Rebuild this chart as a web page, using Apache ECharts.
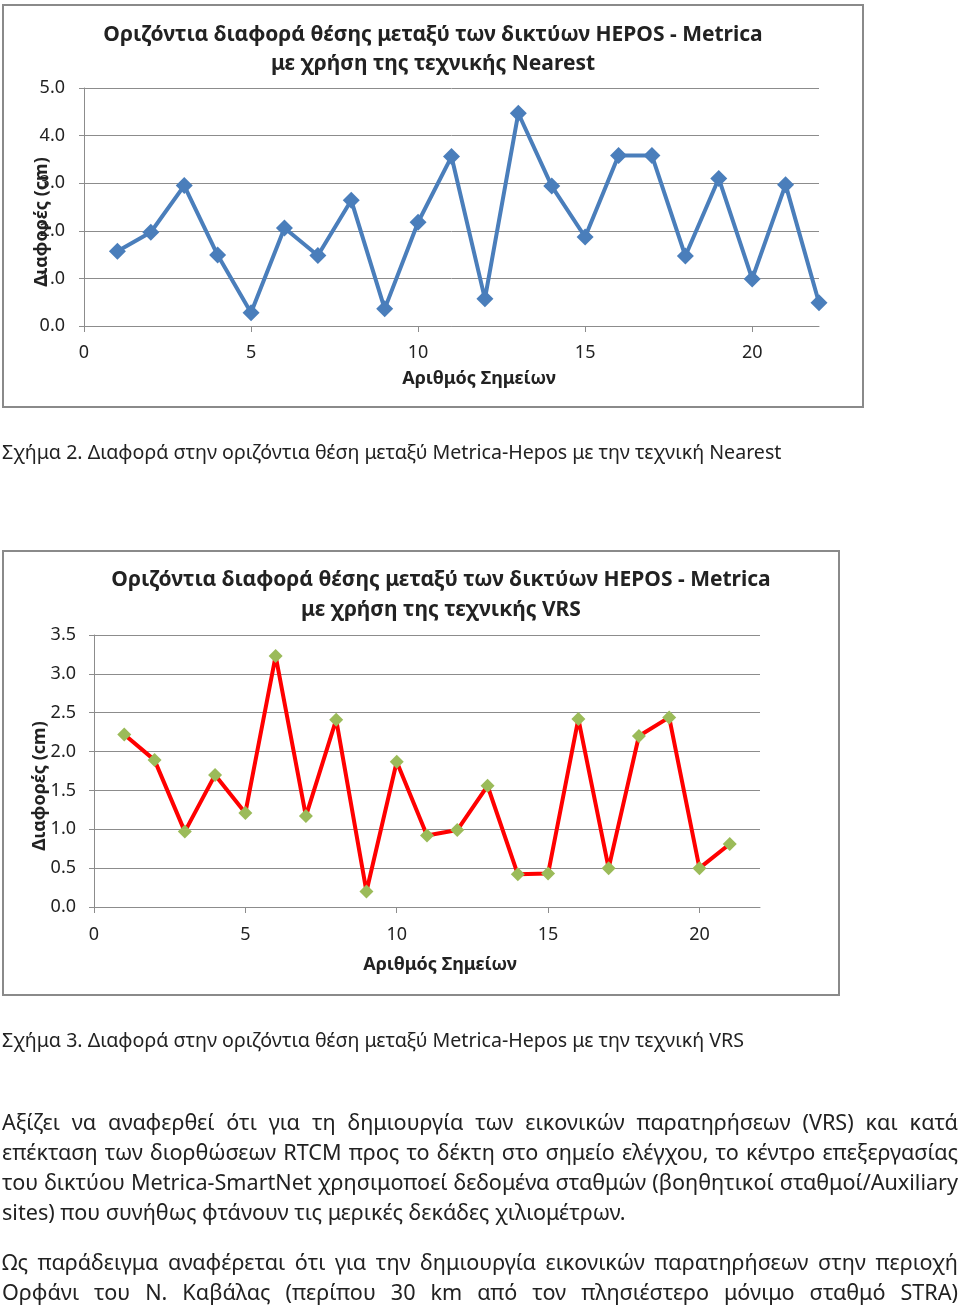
<!DOCTYPE html>
<html>
<head>
<meta charset="utf-8">
<script src="https://cdn.jsdelivr.net/npm/echarts@6/dist/echarts.min.js"></script>
<style>
  body { margin:0; background:#fff; width:960px; height:1306px; overflow:hidden; position:relative; }
  #c { position:absolute; left:0; top:0; width:960px; height:1306px; }
  .t { position:absolute; left:2px; font-family:"Noto Sans", sans-serif; color:#222; white-space:nowrap; }
  .cap { font-size:19.6px; line-height:24px; }
  .p { width:956px; font-size:21.6px; line-height:30px; text-align:justify; text-align-last:justify; white-space:normal; }
  .p.last { text-align-last:left; }
</style>
</head>
<body>
<div id="c"></div>
<div class="t cap" style="top:440px">Σχήμα 2. Διαφορά στην οριζόντια θέση μεταξύ Metrica-Hepos με την τεχνική Nearest</div>
<div class="t cap" style="top:1028px">Σχήμα 3. Διαφορά στην οριζόντια θέση μεταξύ Metrica-Hepos με την τεχνική VRS</div>
<div class="t p" style="top:1107px">Αξίζει να αναφερθεί ότι για τη δημιουργία των εικονικών παρατηρήσεων (VRS) και κατά</div>
<div class="t p" style="top:1137px">επέκταση των διορθώσεων RTCM προς το δέκτη στο σημείο ελέγχου, το κέντρο επεξεργασίας</div>
<div class="t p" style="top:1167px">του δικτύου Metrica-SmartNet χρησιμοποεί δεδομένα σταθμών (βοηθητικοί σταθμοί/Auxiliary</div>
<div class="t p last" style="top:1197px">sites) που συνήθως φτάνουν τις μερικές δεκάδες χιλιομέτρων.</div>
<div class="t p" style="top:1247px">Ως παράδειγμα αναφέρεται ότι για την δημιουργία εικονικών παρατηρήσεων στην περιοχή</div>
<div class="t p" style="top:1277px">Ορφάνι του Ν. Καβάλας (περίπου 30 km από τον πλησιέστερο μόνιμο σταθμό STRA)</div>
<script>
// ---- data ----
const nearestPoints = [1,2,3,4,5,6,7,8,9,10,11,12,13,14,15,16,17,18,19,20,21,22];
const nearestValues = [1.57,1.97,2.95,1.49,0.28,2.06,1.48,2.64,0.36,2.18,3.56,0.57,4.47,2.94,1.87,3.58,3.58,1.47,3.10,0.99,2.97,0.49];
const vrsPoints = [1,2,3,4,5,6,7,8,9,10,11,12,13,14,15,16,17,18,19,20,21];
const vrsValues = [2.22,1.89,0.97,1.70,1.21,3.23,1.17,2.41,0.20,1.87,0.92,0.99,1.56,0.42,0.43,2.42,0.50,2.20,2.44,0.50,0.81];
const xTicks = [0,5,10,15,20];
const title1 = ['Οριζόντια διαφορά θέσης μεταξύ των δικτύων HEPOS - Metrica', 'με χρήση της τεχνικής Nearest'];
const title2 = ['Οριζόντια διαφορά θέσης μεταξύ των δικτύων HEPOS - Metrica', 'με χρήση της τεχνικής VRS'];
const yName = 'Διαφορές (cm)';
const xName = 'Αριθμός Σημείων';

const FONT = '"Noto Sans", sans-serif';
const gridCol = '#8c8c8c';
const txtCol = '#222';

function xAxisCfg(gi, margin) {
  return {
    type:'value', gridIndex:gi, min:0, max:22,
    axisLine:{show:true, lineStyle:{color:gridCol, width:1}},
    axisTick:{show:true, customValues:xTicks, length:6, lineStyle:{color:gridCol}},
    axisLabel:{customValues:xTicks, color:txtCol, fontFamily:FONT, fontSize:18, margin:margin},
    splitLine:{show:false}
  };
}
function yAxisCfg(gi, max, interval, margin) {
  return {
    type:'value', gridIndex:gi, min:0, max:max, interval:interval,
    axisLine:{show:true, lineStyle:{color:gridCol, width:1}},
    axisTick:{show:true, length:5, lineStyle:{color:gridCol}},
    axisLabel:{color:txtCol, fontFamily:FONT, fontSize:18, margin:margin, formatter:v=>v.toFixed(1)},
    splitLine:{show:true, lineStyle:{color:gridCol, width:1}}
  };
}
function txt(x, y, s, opts) {
  return {type:'text', x:x, y:y, style:Object.assign({text:s, fill:txtCol, font:'bold 21px ' + FONT, textAlign:'center', textVerticalAlign:'middle'}, opts||{})};
}

const chart = echarts.init(document.getElementById('c'), null, {renderer:'canvas'});
chart.setOption({
  animation:false,
  backgroundColor:'#fff',
  grid:[
    {left:84, top:88, width:735, height:238},
    {left:94, top:635, width:666, height:272}
  ],
  xAxis:[xAxisCfg(0, 18), xAxisCfg(1, 19)],
  yAxis:[yAxisCfg(0, 5, 1, 19), yAxisCfg(1, 3.5, 0.5, 18)],
  series:[
    {type:'line', xAxisIndex:0, yAxisIndex:0, data:nearestPoints.map((p,i)=>[p, nearestValues[i]]),
     symbol:'diamond', symbolSize:17, lineStyle:{color:'#4A7EBB', width:4}, itemStyle:{color:'#4A7EBB'}},
    {type:'line', xAxisIndex:1, yAxisIndex:1, data:vrsPoints.map((p,i)=>[p, vrsValues[i]]),
     symbol:'diamond', symbolSize:14, lineStyle:{color:'#FF0000', width:4}, itemStyle:{color:'#9BBB59'}}
  ],
  graphic:[
    {type:'rect', z:-10, shape:{x:3, y:5, width:860, height:402}, style:{fill:'none', stroke:'#8a8a8a', lineWidth:2}},
    {type:'rect', z:-10, shape:{x:3, y:551, width:836, height:444}, style:{fill:'none', stroke:'#8a8a8a', lineWidth:2}},
    txt(433, 35, title1[0]),
    txt(433, 64, title1[1]),
    txt(441, 580, title2[0]),
    txt(441, 610, title2[1]),
    Object.assign(txt(42, 222, yName, {font:'bold 18px ' + FONT}), {rotation:Math.PI/2}),
    Object.assign(txt(40, 786, yName, {font:'bold 18px ' + FONT}), {rotation:Math.PI/2}),
    txt(479, 379, xName, {font:'bold 18px ' + FONT}),
    txt(440, 965, xName, {font:'bold 18px ' + FONT})
  ]
});
</script>
</body>
</html>
